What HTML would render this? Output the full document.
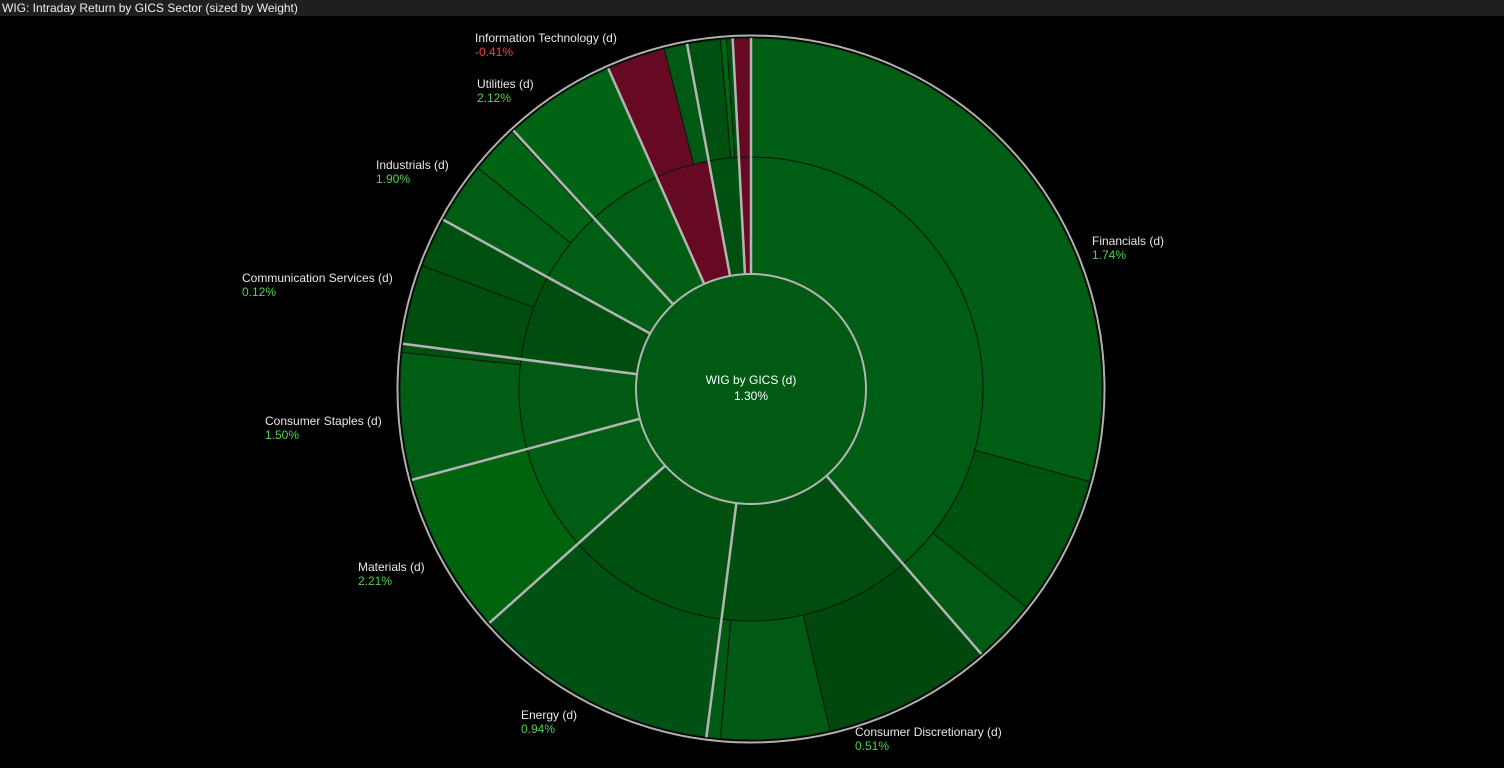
<!DOCTYPE html>
<html><head><meta charset="utf-8"><style>
body{margin:0;background:#000;width:1504px;height:768px;overflow:hidden;font-family:"Liberation Sans",sans-serif}
#title{position:absolute;left:0;top:0;width:1504px;height:16px;background:#1f1f1f;color:#eee;font-size:12px;line-height:16px;padding-left:2px;box-sizing:border-box}
svg{position:absolute;left:0;top:0}
text{font-family:"Liberation Sans",sans-serif;font-size:12px}
</style></head><body>
<div id="title">WIG: Intraday Return by GICS Sector (sized by Weight)</div>
<svg id="chart" width="1504" height="768"></svg>
<script>
// sector data: weights (share of circle, degrees) and labels
const sectorNames=["Financials","Consumer Discretionary","Energy","Materials","Consumer Staples","Communication Services","Industrials","Utilities","Information Technology","Health Care","Real Estate"];
const sectorWeights=[139,48.3,40.9,26.8,22.4,21.4,18.6,18.6,13.5,7.5,3];
const sectorReturns=["1.74%","0.51%","0.94%","2.21%","1.50%","0.12%","1.90%","2.12%","-0.41%","",""];
const sectorColors=["#005e14","#004d10","#00500f","#005e14","#005a14","#004d10","#005e14","#005e14","#650a22","#00500f","#650a22"];
// outer ring sub-weights per sector
const subWeights=[[105.3,23.1,10.6],[28,18,2.3],[40.9],[26.8],[21,1.4],[13.2,8.2],[10.2,8.1,0.3],[18.6],[9.7,3.8],[5.5,1,1],[3]];
const subColors=[["#005e14","#00530f","#005a14"],["#00480e","#005a14","#005a14"],["#005214"],["#00640f"],["#005e14","#005010"],["#004d10","#005010"],["#005e14","#006414","#650a22"],["#006414"],["#650a22","#005a14"],["#00500f","#006414","#00500f"],["#650a22"]];
// label positions (screen) for visible labels
const labelPos=[[1092,245],[855,736],[521,719],[358,571],[265,425],[242,282],[376,169],[477,88],[475,42]];

const cx=751,cy=389,r0=115,r1=232,r2=351;
const svg=document.getElementById('chart');
const NS='http://www.w3.org/2000/svg';
function pt(a,r){const t=a*Math.PI/180;return [cx+r*Math.sin(t),cy-r*Math.cos(t)];}
function arc(a0,a1,ri,ro){
  const [x0,y0]=pt(a0,ro),[x1,y1]=pt(a1,ro),[x2,y2]=pt(a1,ri),[x3,y3]=pt(a0,ri);
  const l=(a1-a0)>180?1:0;
  return `M${x0},${y0}A${ro},${ro} 0 ${l} 1 ${x1},${y1}L${x2},${y2}A${ri},${ri} 0 ${l} 0 ${x3},${y3}Z`;
}
const total=sectorWeights.reduce((s,v)=>s+v,0);
// outline ring
const ring=document.createElementNS(NS,'circle');
ring.setAttribute('cx',cx);ring.setAttribute('cy',cy);ring.setAttribute('r',r2+2.5);
ring.setAttribute('fill','none');ring.setAttribute('stroke','#b0b0b0');ring.setAttribute('stroke-width','2');


svg.appendChild(ring);
let a=0;const bounds=[];
sectorWeights.forEach((w,i)=>{
  const sa=a*360/total, ea=(a+w)*360/total;
  const m=document.createElementNS(NS,'path');
  m.setAttribute('d',arc(sa,ea,r0,r1));m.setAttribute('fill',sectorColors[i]);
  m.setAttribute('stroke','#0a1a0a');m.setAttribute('stroke-width','1');
  
  
  svg.appendChild(m);
  const sw=subWeights[i];const st=sw.reduce((s,v)=>s+v,0);let b=sa;
  sw.forEach((v,j)=>{
    const e=b+v/st*(ea-sa);
    const p=document.createElementNS(NS,'path');
    p.setAttribute('d',arc(b,e,r1,r2));p.setAttribute('fill',subColors[i][j]);
    p.setAttribute('stroke','#0a1a0a');p.setAttribute('stroke-width','1');
    
    
    svg.appendChild(p);b=e;
  });
  bounds.push(sa);a+=w;
});
bounds.forEach(ang=>{
  const [x0,y0]=pt(ang,r0),[x1,y1]=pt(ang,r2);
  const l=document.createElementNS(NS,'line');
  l.setAttribute('x1',x0);l.setAttribute('y1',y0);l.setAttribute('x2',x1);l.setAttribute('y2',y1);
  l.setAttribute('stroke','#b4b4b4');l.setAttribute('stroke-width','2.5');
  
  
  svg.appendChild(l);
});
const c=document.createElementNS(NS,'circle');
c.setAttribute('cx',cx);c.setAttribute('cy',cy);c.setAttribute('r',r0);
c.setAttribute('fill','#005a14');c.setAttribute('stroke','#b4b4b4');c.setAttribute('stroke-width','2');


svg.appendChild(c);
function txt(x,y,s,col,anchor,name){
  const t=document.createElementNS(NS,'text');
  t.setAttribute('x',x);t.setAttribute('y',y);t.setAttribute('fill',col);
  if(anchor)t.setAttribute('text-anchor',anchor);
  t.textContent=s;
  
  
  svg.appendChild(t);
}
txt(cx,384,'WIG by GICS (d)','#fff','middle','center-label');
txt(cx,400,'1.30%','#fff','middle','center-value');
labelPos.forEach((p,i)=>{
  txt(p[0],p[1],sectorNames[i]+' (d)','#e8e8e8',null,'sector-label');
  const v=sectorReturns[i];
  txt(p[0],p[1]+14,v,v.startsWith('-')?'#ff3b4e':'#4ed34e',null,'sector-return');
});
</script>
</body></html>
